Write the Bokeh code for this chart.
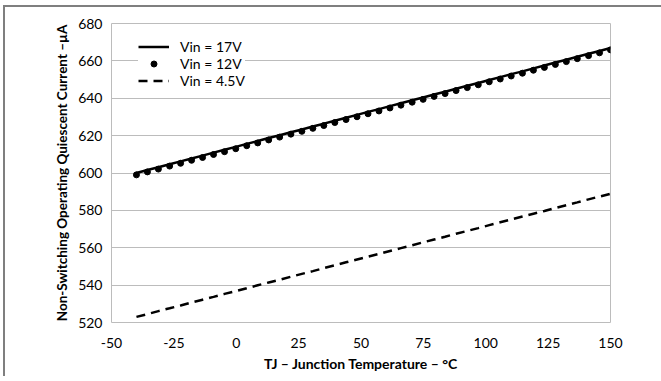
from bokeh.plotting import figure
from bokeh.models import Legend, FixedTicker, Range1d, PrintfTickFormatter
from bokeh.embed import file_html
from bokeh.resources import INLINE

# Junction temperature samples (°C)
temps = [-40.0, -35.6, -31.2, -26.7, -22.3, -17.9, -13.5, -9.1, -4.7, -0.2,
         4.2, 8.6, 13.0, 17.4, 21.9, 26.3, 30.7, 35.1, 39.5, 44.0,
         48.4, 52.8, 57.2, 61.6, 66.0, 70.5, 74.9, 79.3, 83.7, 88.1,
         92.6, 97.0, 101.4, 105.8, 110.2, 114.7, 119.1, 123.5, 127.9, 132.3,
         136.7, 141.2, 145.6, 150.0]

# Non-switching quiescent current (µA) for each input voltage
i_17v = [600.0, 601.6, 603.1, 604.7, 606.2, 607.8, 609.3, 610.9, 612.4, 614.0,
         615.6, 617.1, 618.7, 620.2, 621.8, 623.3, 624.9, 626.4, 628.0, 629.6,
         631.1, 632.7, 634.2, 635.8, 637.3, 638.9, 640.4, 642.0, 643.5, 645.1,
         646.7, 648.2, 649.8, 651.3, 652.9, 654.4, 656.0, 657.5, 659.1, 660.6,
         662.2, 663.8, 665.3, 666.9]
i_12v = [599.0, 600.6, 602.1, 603.7, 605.2, 606.8, 608.3, 609.9, 611.4, 613.0,
         614.6, 616.1, 617.7, 619.2, 620.8, 622.3, 623.9, 625.4, 627.0, 628.6,
         630.1, 631.7, 633.2, 634.8, 636.3, 637.9, 639.4, 641.0, 642.5, 644.1,
         645.7, 647.2, 648.8, 650.3, 651.9, 653.4, 655.0, 656.5, 658.1, 659.6,
         661.2, 662.8, 664.3, 665.9]
i_4v5 = [523.0, 524.5, 526.1, 527.6, 529.1, 530.7, 532.2, 533.7, 535.3, 536.8,
         538.3, 539.9, 541.4, 542.9, 544.5, 546.0, 547.5, 549.1, 550.6, 552.2,
         553.7, 555.2, 556.7, 558.3, 559.8, 561.3, 562.9, 564.4, 565.9, 567.5,
         569.0, 570.5, 572.1, 573.6, 575.1, 576.7, 578.2, 579.7, 581.3, 582.8,
         584.3, 585.9, 587.4, 588.9]

x_ticks = [-50, -25, 0, 25, 50, 75, 100, 125, 150]
y_ticks = [520, 540, 560, 580, 600, 620, 640, 660, 680]
series_labels = ["Vin = 17V", "Vin = 12V", "Vin = 4.5V"]

FONT = "Lato"
GRID = "#bcbcbc"
RULE = "#7f7f7f"

p = figure(width=661, height=376, output_backend="svg", toolbar_location=None,
           x_range=Range1d(-50, 150), y_range=Range1d(520, 680),
           min_border_left=111, min_border_right=51,
           min_border_top=23, min_border_bottom=54)

# grey rules along the top and left of the panel, painted behind a transparent border area
p.border_fill_alpha = 0
p.background_fill_color = "white"
p.styles = {
    "background": (f"linear-gradient({RULE}, {RULE}) 3px 5px / 100% 2px no-repeat, "
                   f"linear-gradient({RULE}, {RULE}) 3px 5px / 2px 100% no-repeat, white")
}

p.outline_line_color = GRID
p.outline_line_width = 1
p.xgrid.grid_line_color = None
p.ygrid.grid_line_color = GRID
p.ygrid.grid_line_width = 1

p.xaxis.ticker = FixedTicker(ticks=x_ticks)
p.yaxis.ticker = FixedTicker(ticks=y_ticks)
p.xaxis.formatter = PrintfTickFormatter(format="%d")
p.yaxis.formatter = PrintfTickFormatter(format="%d")
for ax in (p.xaxis[0], p.yaxis[0]):
    ax.axis_line_color = None
    ax.major_tick_line_color = None
    ax.minor_tick_line_color = None
    ax.major_label_text_font = FONT
    ax.major_label_text_font_size = "14px"
    ax.major_label_text_color = "black"
    ax.axis_label_text_font = FONT
    ax.axis_label_text_font_style = "bold"
    ax.axis_label_text_color = "black"

p.xaxis.axis_label = "TJ – Junction Temperature – °C"
p.yaxis.axis_label = "Non-Switching Operating Quiescent Current –µA"
p.xaxis.axis_label_text_font_size = "14px"
p.yaxis.axis_label_text_font_size = "13.5px"
p.xaxis.major_label_standoff = 9
p.yaxis.major_label_standoff = 3
p.xaxis.axis_label_standoff = 4
p.yaxis.axis_label_standoff = 5

r17 = p.line(temps, i_17v, line_color="black", line_width=2.5)
r12 = p.scatter(temps, i_12v, size=6, fill_color="black", line_color="black")
r45 = p.line(temps, i_4v5, line_color="black", line_width=2.5, line_dash="9 6")

legend = Legend(items=[(series_labels[0], [r17]),
                       (series_labels[1], [r12]),
                       (series_labels[2], [r45])],
                location=(27, 233))
legend.background_fill_color = "white"
legend.background_fill_alpha = 1
legend.border_line_color = None
legend.padding = 4
legend.spacing = 0
legend.margin = 0
legend.glyph_width = 31
legend.glyph_height = 15
legend.label_height = 15
legend.label_standoff = 11
legend.label_text_font = FONT
legend.label_text_font_size = "14px"
legend.label_text_color = "black"
p.add_layout(legend)

open("out.html", "w").write(file_html(p, INLINE))
